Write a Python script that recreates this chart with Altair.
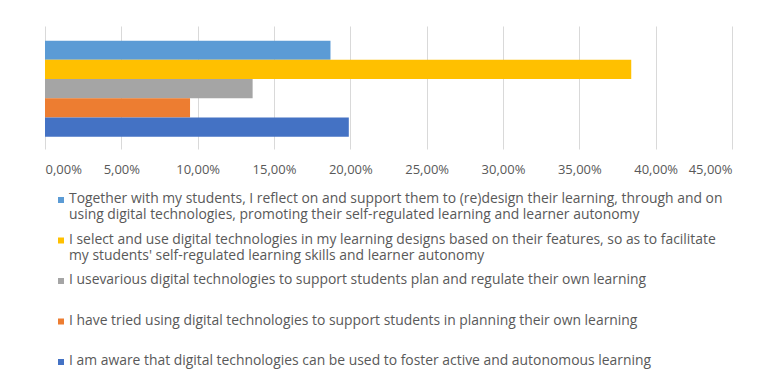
import altair as alt
import pandas as pd

labels = [
    "Together with my students, I reflect on and support them to (re)design their learning, through and on\nusing digital technologies, promoting their self-regulated learning and learner autonomy",
    "I select and use digital technologies in my learning designs based on their features, so as to facilitate\nmy students' self-regulated learning skills and learner autonomy",
    "I usevarious digital technologies to support students plan and regulate their own learning",
    "I have tried using digital technologies to support students in planning their own learning",
    "I am aware that digital technologies can be used to foster active and autonomous learning",
]
values = [0.187, 0.384, 0.136, 0.095, 0.199]
colors = ["#5B9BD5", "#FFC000", "#A5A5A5", "#ED7D31", "#4472C4"]
tick_values = [0.0, 0.05, 0.10, 0.15, 0.20, 0.25, 0.30, 0.35, 0.40, 0.45]

df = pd.DataFrame({"label": labels, "value": values, "color": colors})

FONT = "Open Sans"
GREY = "#595959"

bars = alt.Chart(df).mark_bar().encode(
    x=alt.X(
        "value:Q",
        scale=alt.Scale(domain=[0, 0.45], nice=False),
        axis=alt.Axis(
            values=tick_values,
            labelExpr="replace(format(datum.value, '.2%'), '.', ',')",
            grid=True,
            gridColor="#D9D9D9",
            domain=False,
            ticks=False,
            labelColor=GREY,
            labelFont=FONT,
            labelFontSize=13,
            labelPadding=14,
            title=None,
        ),
    ),
    y=alt.Y(
        "label:N",
        sort=labels,
        axis=None,
        scale=alt.Scale(paddingInner=0, paddingOuter=0.7, align=0.544),
    ),
    color=alt.Color("color:N", scale=None),
).properties(width=687, height=123)

legend_base = alt.Chart(df).encode(
    y=alt.Y("label:N", sort=labels, axis=None, scale=alt.Scale(type="point", padding=0)),
)
squares = legend_base.mark_square(size=36, opacity=1, yOffset=8).encode(
    x=alt.value(16),
    color=alt.Color("color:N", scale=None),
)
texts = legend_base.mark_text(
    align="left", baseline="top", lineBreak="\n", font=FONT, fontSize=13.9,
    lineHeight=16, color=GREY,
).encode(x=alt.value(24), text="label:N")
legend = (squares + texts).properties(width=687, height=162)

chart = alt.vconcat(bars, legend, spacing=16).configure_view(stroke=None).properties(
    padding={"left": 37, "top": 18, "right": 5, "bottom": 5}
)

chart.save("out.html", embed_options={"renderer": "svg", "actions": False})
